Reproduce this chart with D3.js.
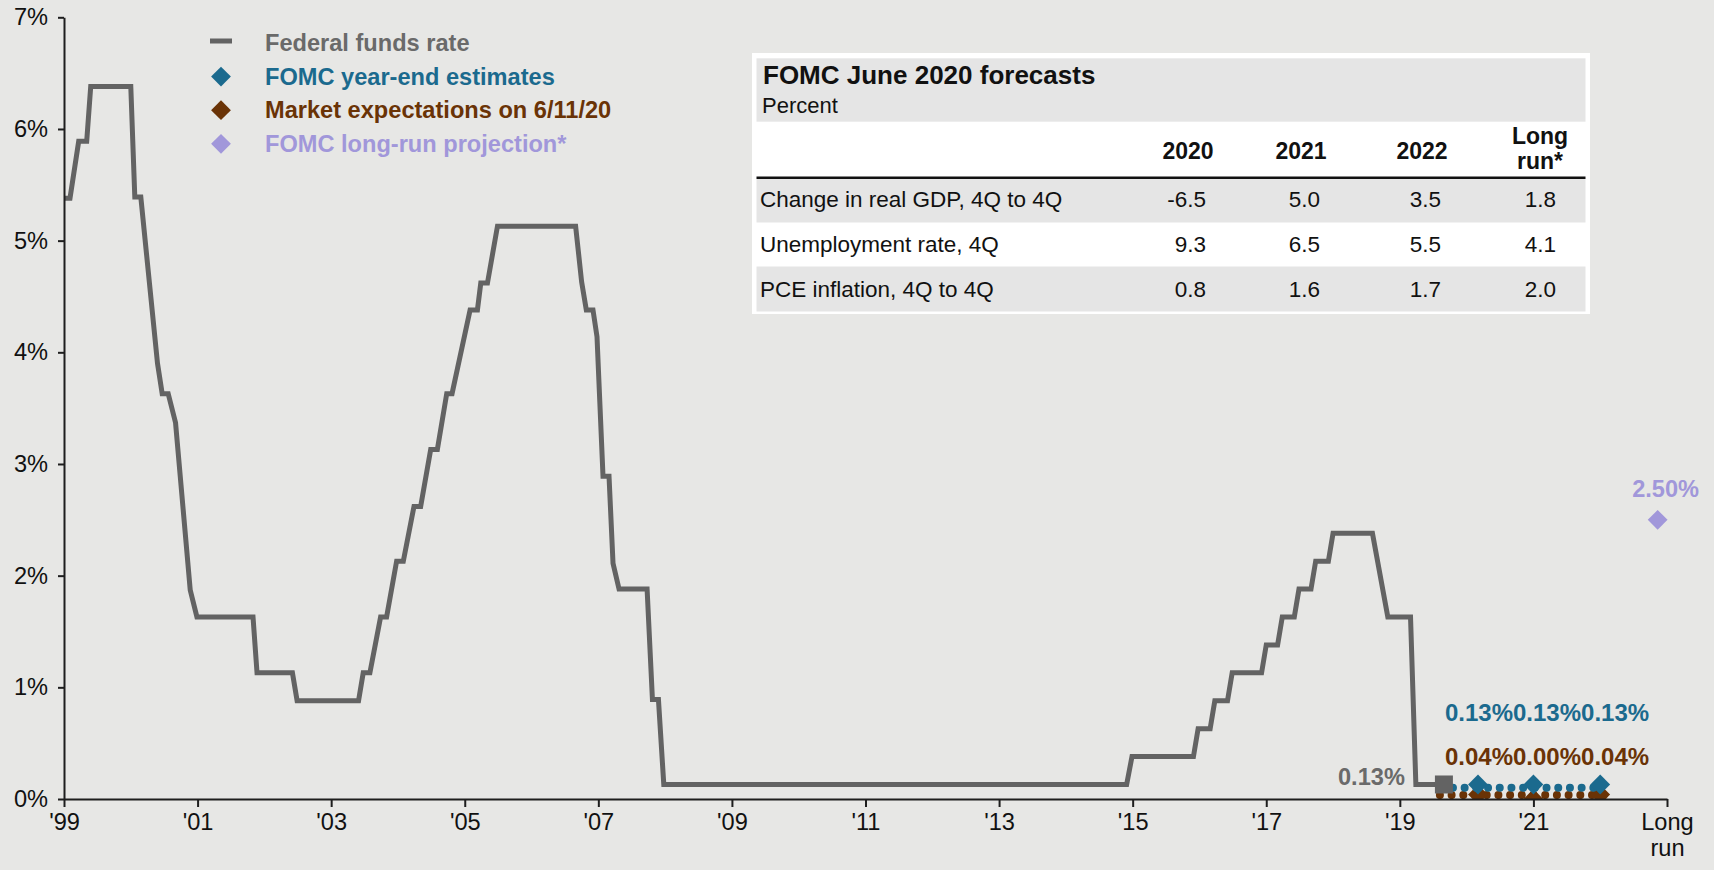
<!DOCTYPE html>
<html><head><meta charset="utf-8">
<script src="https://cdn.jsdelivr.net/npm/d3@7/dist/d3.min.js"></script>
<style>
html,body{margin:0;padding:0;background:#e7e7e5;}
svg{display:block;font-family:"Liberation Sans",Arial,Helvetica,sans-serif;}
</style></head><body>
<svg id="c" width="1714" height="870"></svg>
<script>
// ---------------- DATA ----------------
const fedDates = [1999.00,1999.09,1999.22,1999.34,1999.40,2000.00,2000.06,2000.15,2000.40,2000.47,2000.56,2000.67,2000.89,2000.99,
  2001.83,2001.89,2002.42,2002.49,2003.41,2003.48,2003.58,2003.74,2003.83,2003.98,2004.08,2004.24,2004.34,2004.49,2004.59,
  2004.73,2004.81,2005.08,2005.19,2005.24,2005.34,2005.49,2006.66,2006.75,2006.82,2006.92,2006.98,2007.07,2007.16,2007.22,
  2007.31,2007.73,2007.81,2007.90,2007.98,2014.91,2014.99,2015.91,2015.98,2016.16,2016.23,2016.42,2016.49,2016.93,2017.00,
  2017.17,2017.24,2017.42,2017.49,2017.67,2017.74,2017.93,2018.00,2018.59,2018.82,2019.16,2019.24,2019.66];
const fedRates = [5.38,5.38,5.89,5.89,6.38,6.38,5.39,5.39,3.90,3.63,3.63,3.37,1.87,1.63,
  1.63,1.13,1.13,0.88,0.88,1.13,1.13,1.63,1.63,2.13,2.13,2.62,2.62,3.13,3.13,
  3.63,3.63,4.38,4.38,4.62,4.62,5.13,5.13,4.63,4.38,4.38,4.14,2.89,2.89,2.11,
  1.88,1.88,0.89,0.89,0.13,0.13,0.38,0.38,0.63,0.63,0.88,0.88,1.13,1.13,1.38,
  1.38,1.63,1.63,1.88,1.88,2.13,2.13,2.38,2.38,1.63,1.63,0.13,0.13];
const currentDate = 2019.66, currentRate = 0.13, currentLabel = "0.13%";

const forecastDates = [2020.17, 2021.0, 2022.0];
const fomcEstimates = [0.13, 0.13, 0.13];
const fomcLabels = ["0.13%","0.13%","0.13%"];
const marketExpect = [0.04, 0.00, 0.04];
const marketLabels = ["0.04%","0.00%","0.04%"];
const fomcPathDates = [2019.62, 2022.0];
const fomcPathValues = [0.10, 0.10];
const marketPathDates = [2019.60, 2022.15];
const marketPathValues = [0.035, 0.035];
const longRunDate = 2022.86, longRunValue = 2.5, longRunLabel = "2.50%";

const xTickYears = [1999,2001,2003,2005,2007,2009,2011,2013,2015,2017,2019,2021,2023];
const xTickLabels = ["'99","'01","'03","'05","'07","'09","'11","'13","'15","'17","'19","'21","Long\nrun"];
const yTicks = [0,1,2,3,4,5,6,7];

const legendLabels = ["Federal funds rate","FOMC year-end estimates","Market expectations on 6/11/20","FOMC long-run projection*"];
const legendKinds = ["line","diamond","diamond","diamond"];

const tableTitle = "FOMC June 2020 forecasts";
const tableSubtitle = "Percent";
const tableHeaders = ["2020","2021","2022","Long\nrun*"];
const tableRowLabels = ["Change in real GDP, 4Q to 4Q","Unemployment rate, 4Q","PCE inflation, 4Q to 4Q"];
const gdpValues = ["-6.5","5.0","3.5","1.8"];
const unempValues = ["9.3","6.5","5.5","4.1"];
const pceValues = ["0.8","1.6","1.7","2.0"];

// ---------------- STYLE ----------------
const C = {gray:"#636363", grayText:"#6a6a6a", blue:"#1b6a8e", brown:"#6a3306", lav:"#a197da",
  axis:"#1e1e1e", tableGray:"#e5e5e5", bg:"#e7e7e5"};
const FS = 23.6;

const svg = d3.select("#c");
const x = d3.scaleLinear().domain([1999, 2023]).range([64, 1667]);
const y = d3.scaleLinear().domain([0, 7]).range([799, 17.3]);

// clip for plot area
svg.append("defs").append("clipPath").attr("id","plotclip")
  .append("rect").attr("x",0).attr("y",0).attr("width",1714).attr("height",y(0));

// ---- fed funds line ----
const fed = fedDates.map((d,i)=>[d, fedRates[i]]);
const line = d3.line().x(d=>x(d[0])).y(d=>y(d[1]));
svg.append("path").datum(fed).attr("d", line)
  .attr("fill","none").attr("stroke",C.gray).attr("stroke-width",5).attr("stroke-linejoin","miter");

// ---- forecasts ----
const fg = svg.append("g").attr("clip-path","url(#plotclip)");
const diamond = d3.symbol(d3.symbolSquare, 196);
function dotted(dates, vals, color){
  fg.append("path").datum(dates.map((d,i)=>[d, vals[i]])).attr("d", line)
    .attr("fill","none").attr("stroke",color).attr("stroke-width",8)
    .attr("stroke-linecap","round").attr("stroke-dasharray","0 11.7");
}
dotted(marketPathDates, marketPathValues, C.brown);
fg.selectAll(".mk").data(forecastDates).join("path").attr("class","mk")
  .attr("d", diamond).attr("fill", C.brown)
  .attr("transform",(d,i)=>`translate(${x(d)},${y(marketExpect[i])}) rotate(45)`);
dotted(fomcPathDates, fomcPathValues, C.blue);
fg.selectAll(".fo").data(forecastDates).join("path").attr("class","fo")
  .attr("d", diamond).attr("fill", C.blue)
  .attr("transform",(d,i)=>`translate(${x(d)},${y(fomcEstimates[i])}) rotate(45)`);

// current square
svg.append("path").attr("d", d3.symbol(d3.symbolSquare, 18*18))
  .attr("fill", C.gray).attr("transform",`translate(${x(currentDate)},${y(currentRate)})`);
svg.append("text").text(currentLabel).attr("x", x(currentDate)-39).attr("y", y(currentRate)+1)
  .attr("text-anchor","end").attr("font-size",FS).attr("font-weight","bold").attr("fill",C.grayText);

// sequential labels above forecasts
function seqLabels(labels, color, baseY){
  let cur = null;
  labels.forEach((t,i)=>{
    const el = svg.append("text").text(t).attr("font-size",24).attr("font-weight","bold")
      .attr("fill",color).attr("y",baseY);
    const w = el.node().getComputedTextLength();
    if (cur === null) cur = x(forecastDates[0]) + 1 - w/2;
    el.attr("x", cur);
    cur += w;
  });
}
seqLabels(fomcLabels, C.blue, y(fomcEstimates[0]) - 63);
seqLabels(marketLabels, C.brown, y(marketExpect[0]) - 30);

// long run
svg.append("path").attr("d", diamond).attr("fill", C.lav)
  .attr("transform",`translate(${x(longRunDate)},${y(longRunValue)}) rotate(45)`);
svg.append("text").text(longRunLabel).attr("x", x(longRunDate)+8).attr("y", y(longRunValue)-23)
  .attr("text-anchor","middle").attr("font-size",FS).attr("font-weight","bold").attr("fill",C.lav);

// ---- axes ----
const xAxis = d3.axisBottom(x).tickValues(xTickYears).tickSize(8).tickSizeOuter(0).tickPadding(6)
  .tickFormat((d,i)=>xTickLabels[i]);
const gx = svg.append("g").attr("transform",`translate(0,${y(0)})`).call(xAxis);
gx.select(".domain").attr("stroke",C.axis).attr("stroke-width",2);
gx.selectAll(".tick line").attr("stroke",C.axis).attr("stroke-width",2);
gx.selectAll(".tick text").attr("font-size",FS).attr("fill","#111").attr("font-family",null)
  .each(function(d,i){
    const parts = xTickLabels[i].split("\n");
    const t = d3.select(this).text(null);
    parts.forEach((p,j)=>t.append("tspan").attr("x",0).attr("dy", j===0 ? "0.71em" : "1.1em").text(p));
  });

const yAxis = d3.axisLeft(y).tickValues(yTicks).tickSize(6).tickSizeOuter(0).tickPadding(10)
  .tickFormat(d=>d+"%");
const gy = svg.append("g").attr("transform",`translate(${x(1999)},0)`).call(yAxis);
gy.select(".domain").attr("stroke",C.axis).attr("stroke-width",2);
gy.selectAll(".tick line").attr("stroke",C.axis).attr("stroke-width",2);
gy.selectAll(".tick text").attr("font-size",FS).attr("fill","#111").attr("font-family",null);

// ---- legend ----
const lg = svg.append("g").attr("transform","translate(221,43)");
const legendColors = [C.gray, C.blue, C.brown, C.lav];
legendLabels.forEach((t,i)=>{
  const row = lg.append("g").attr("transform",`translate(0,${i*33.6})`);
  if (legendKinds[i]==="line"){
    row.append("line").attr("x1",-11).attr("x2",11).attr("y1",-2).attr("y2",-2)
      .attr("stroke",legendColors[i]).attr("stroke-width",5);
  } else {
    row.append("path").attr("d",diamond).attr("fill",legendColors[i]).attr("transform","rotate(45)");
  }
  row.append("text").text(t).attr("x",44).attr("y",0).attr("dy","0.35em")
    .attr("font-size",FS).attr("font-weight","bold").attr("fill", i===0 ? C.grayText : legendColors[i]);
});

// ---- table ----
const T = {x0:752, x1:1590, y0:53, y1:314, pad:4.5};
const tg = svg.append("g");
tg.append("rect").attr("x",T.x0).attr("y",T.y0).attr("width",T.x1-T.x0).attr("height",T.y1-T.y0).attr("fill","#fff");
const ix0 = T.x0+T.pad, iw = T.x1-T.x0-2*T.pad;
tg.append("rect").attr("x",ix0).attr("y",58.3).attr("width",iw).attr("height",63.4).attr("fill",C.tableGray);
const rowTops = [179, 222.5, 266.5];
const rowH = [43.5, 44, 45];
[0,2].forEach(r=>tg.append("rect").attr("x",ix0).attr("y",rowTops[r]).attr("width",iw).attr("height",rowH[r]).attr("fill",C.tableGray));
tg.append("line").attr("x1",ix0).attr("x2",ix0+iw).attr("y1",177.7).attr("y2",177.7).attr("stroke","#111").attr("stroke-width",2.4);
tg.append("text").text(tableTitle).attr("x",763).attr("y",83.5).attr("font-size",26).attr("font-weight","bold").attr("fill","#111");
tg.append("text").text(tableSubtitle).attr("x",762).attr("y",113.3).attr("font-size",22).attr("fill","#111");
const colCenters = [1188, 1301, 1422, 1540];
const colRights = [1206, 1320, 1441, 1556];
tableHeaders.forEach((h,i)=>{
  const parts = h.split("\n");
  const t = tg.append("text").attr("x",colCenters[i]).attr("text-anchor","middle")
    .attr("font-size",23).attr("font-weight","bold").attr("fill","#111")
    .attr("y", parts.length>1 ? 144 : 158.5);
  parts.forEach((p,j)=>t.append("tspan").attr("x",colCenters[i]).attr("dy", j===0?0:25).text(p));
});
const tableValues = [gdpValues, unempValues, pceValues];
const baselines = [207, 251.7, 296.7];
tableRowLabels.forEach((lab,r)=>{
  tg.append("text").text(lab).attr("x",760).attr("y",baselines[r]).attr("font-size",22.5).attr("fill","#111");
  tableValues[r].forEach((v,c)=>{
    tg.append("text").text(v).attr("x",colRights[c]).attr("y",baselines[r]).attr("text-anchor","end")
      .attr("font-size",22.5).attr("fill","#111");
  });
});
</script>
</body></html>
